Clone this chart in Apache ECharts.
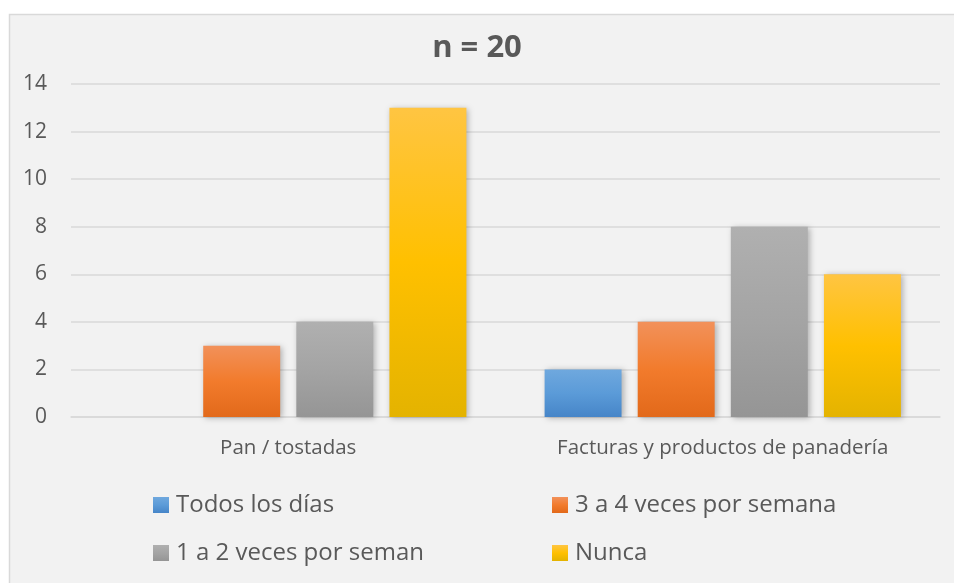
<!DOCTYPE html>
<html>
<head>
<meta charset="utf-8">
<script src="https://cdn.jsdelivr.net/npm/echarts@6/dist/echarts.min.js"></script>
<style>
  html, body { margin: 0; padding: 0; background: #ffffff; }
  #chart { width: 954px; height: 583px; }
</style>
</head>
<body>
<div id="chart"></div>
<script>
// Frequency of consumption, two product groups
const categories = ['Pan / tostadas', 'Facturas y productos de panadería'];
const seriesNames = ['Todos los días', '3 a 4 veces por semana', '1 a 2 veces por seman', 'Nunca'];
const todosLosDias = [0, 2];
const tresACuatro = [3, 4];
const unoADos = [4, 8];
const nunca = [13, 6];
const yTicks = [0, 2, 4, 6, 8, 10, 12, 14];

const values = [todosLosDias, tresACuatro, unoADos, nunca];

function grad(stops) {
  return new echarts.graphic.LinearGradient(0, 0, 0, 1,
    stops.map(function (s) { return { offset: s[0], color: s[1] }; }));
}
const fills = [
  grad([[0, '#6fa8de'], [0.5, '#5b9bd8'], [1, '#4685c8']]),
  grad([[0, '#f2915a'], [0.5, '#f27b2c'], [1, '#e2691a']]),
  grad([[0, '#b0b0b0'], [0.5, '#a4a4a4'], [1, '#959595']]),
  grad([[0, '#ffc542'], [0.5, '#ffc000'], [1, '#e4b300']])
];

const textColor = '#595959';
const font = '"Open Sans", "Noto Sans", sans-serif';

const chart = echarts.init(document.getElementById('chart'), null, { renderer: 'canvas' });

// two-column legend, one component per entry
const legendPos = [
  { left: 153, top: 493 },
  { left: 552, top: 493 },
  { left: 153, top: 541 },
  { left: 552, top: 541 }
];

chart.setOption({
  animation: false,
  backgroundColor: 'transparent',
  graphic: [{
    type: 'rect',
    z: -10,
    silent: true,
    shape: { x: 9.5, y: 14.5, width: 960, height: 600 },
    style: { fill: '#f2f2f2', stroke: '#d9d9d9', lineWidth: 1.5 }
  }],
  title: {
    text: 'n = 20',
    left: 'center',
    top: 25,
    textStyle: { fontFamily: font, fontSize: 31, fontWeight: 'bold', color: textColor, lineHeight: 36 }
  },
  legend: seriesNames.map(function (name, i) {
    return {
      data: [name],
      left: legendPos[i].left,
      top: legendPos[i].top,
      icon: 'rect',
      itemWidth: 16,
      itemHeight: 16,
      itemGap: 0,
      padding: 0,
      textStyle: { fontFamily: font, fontSize: 24, lineHeight: 24, color: textColor, padding: [0, 0, 0, 2] }
    };
  }),
  grid: { left: 71, right: 14, top: 84, bottom: 166, containLabel: false },
  xAxis: {
    type: 'category',
    data: categories,
    axisLine: { lineStyle: { color: '#d9d9d9', width: 1.5 } },
    axisTick: { show: false },
    axisLabel: { fontFamily: font, fontSize: 20.5, color: textColor, margin: 21 }
  },
  yAxis: {
    type: 'value',
    min: 0,
    max: 14,
    interval: 2,
    axisLine: { show: false },
    axisTick: { show: false },
    splitLine: { lineStyle: { color: '#d9d9d9', width: 1.5 } },
    axisLabel: {
      fontFamily: font, fontSize: 21, color: textColor, margin: 24,
      formatter: function (v) { return yTicks.indexOf(v) >= 0 ? String(v) : ''; }
    }
  },
  series: seriesNames.map(function (name, i) {
    return {
      name: name,
      type: 'bar',
      data: values[i],
      barGap: '21%',
      barCategoryGap: '18%',
      itemStyle: {
        color: fills[i],
        shadowBlur: 6,
        shadowColor: 'rgba(0,0,0,0.28)',
        shadowOffsetX: 2,
        shadowOffsetY: 1
      }
    };
  })
});
</script>
</body>
</html>
